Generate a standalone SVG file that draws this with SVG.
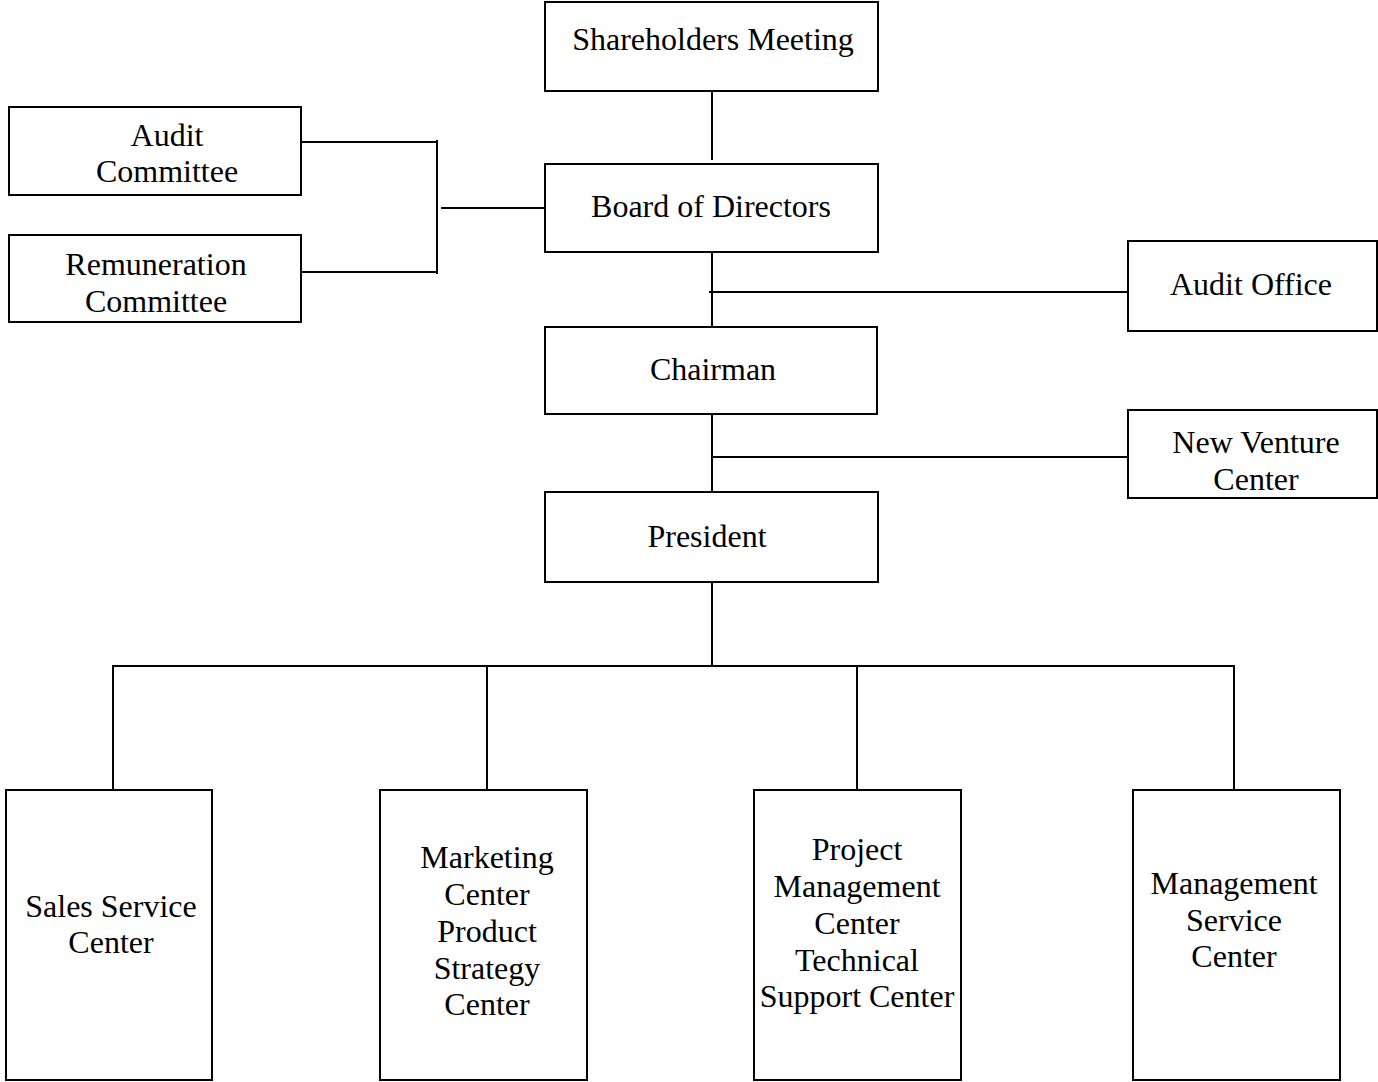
<svg xmlns="http://www.w3.org/2000/svg" width="1378" height="1082" viewBox="0 0 1378 1082">
<style>
.box{fill:#fff;stroke:#000;stroke-width:2}
.ln{fill:none;stroke:#000;stroke-width:2}
text{font-family:"Liberation Serif","Times New Roman",serif;font-size:32px;fill:#000;text-anchor:middle}
</style>
<rect width="1378" height="1082" fill="#fff"/>
<g id="connectors">
<line class="ln" x1="712" y1="91" x2="712" y2="160"/>
<line class="ln" x1="301" y1="142" x2="437" y2="142"/>
<line class="ln" x1="301" y1="272" x2="437" y2="272"/>
<line class="ln" x1="437" y1="140" x2="437" y2="274"/>
<line class="ln" x1="441" y1="208" x2="545" y2="208"/>
<line class="ln" x1="712" y1="252" x2="712" y2="327"/>
<line class="ln" x1="709" y1="292" x2="1128" y2="292"/>
<line class="ln" x1="712" y1="414" x2="712" y2="492"/>
<line class="ln" x1="712" y1="457" x2="1128" y2="457"/>
<line class="ln" x1="712" y1="582" x2="712" y2="666"/>
<polyline class="ln" points="113,790 113,666 1234,666 1234,790"/>
<line class="ln" x1="487" y1="666" x2="487" y2="790"/>
<line class="ln" x1="857" y1="666" x2="857" y2="790"/>
</g>
<g id="shareholders"><rect class="box" x="545" y="2" width="333" height="89"/><text x="713" y="50">Shareholders Meeting</text></g>
<g id="board"><rect class="box" x="545" y="164" width="333" height="88"/><text x="711" y="217">Board of Directors</text></g>
<g id="audit-committee"><rect class="box" x="9" y="107" width="292" height="88"/><text x="167" y="146">Audit</text><text x="167" y="182">Committee</text></g>
<g id="remuneration-committee"><rect class="box" x="9" y="235" width="292" height="87"/><text x="156" y="275">Remuneration</text><text x="156" y="312">Committee</text></g>
<g id="audit-office"><rect class="box" x="1128" y="241" width="249" height="90"/><text x="1251" y="295">Audit Office</text></g>
<g id="chairman"><rect class="box" x="545" y="327" width="332" height="87"/><text x="713" y="380">Chairman</text></g>
<g id="new-venture"><rect class="box" x="1128" y="410" width="249" height="88"/><text x="1256" y="453">New Venture</text><text x="1256" y="490">Center</text></g>
<g id="president"><rect class="box" x="545" y="492" width="333" height="90"/><text x="707" y="547">President</text></g>
<g id="sales"><rect class="box" x="6" y="790" width="206" height="290"/><text x="111" y="917">Sales Service</text><text x="111" y="953">Center</text></g>
<g id="marketing"><rect class="box" x="380" y="790" width="207" height="290"/><text x="487" y="868">Marketing</text><text x="487" y="905">Center</text><text x="487" y="942">Product</text><text x="487" y="979">Strategy</text><text x="487" y="1015">Center</text></g>
<g id="project"><rect class="box" x="754" y="790" width="207" height="290"/><text x="857" y="860">Project</text><text x="857" y="897">Management</text><text x="857" y="934">Center</text><text x="857" y="971">Technical</text><text x="857" y="1007">Support Center</text></g>
<g id="management"><rect class="box" x="1133" y="790" width="207" height="290"/><text x="1234" y="894">Management</text><text x="1234" y="931">Service</text><text x="1234" y="967">Center</text></g>
</svg>
